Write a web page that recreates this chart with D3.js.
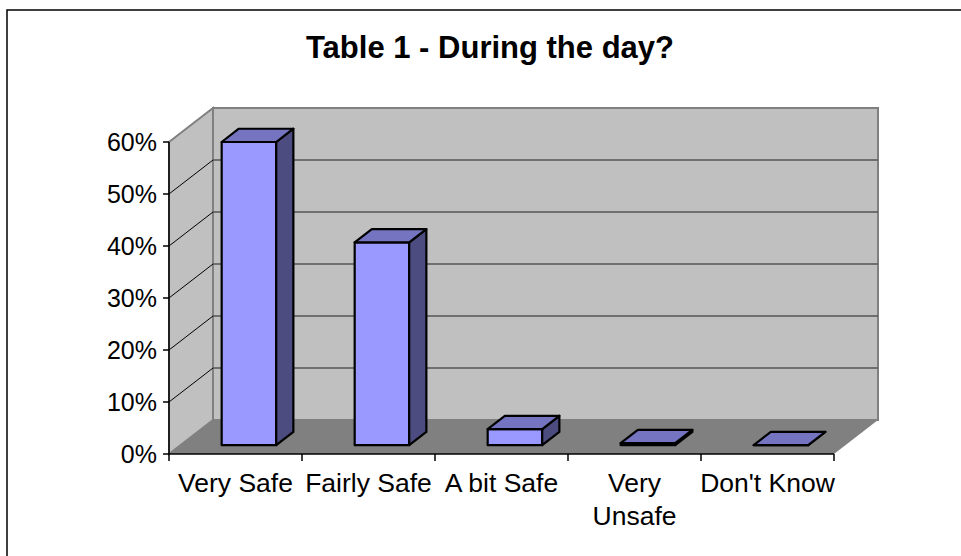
<!DOCTYPE html>
<html>
<head>
<meta charset="utf-8">
<script src="https://cdn.jsdelivr.net/npm/d3@7"></script>
<style>
  body { margin: 0; background: #fff; }
  text { font-family: "Liberation Sans", Arial, sans-serif; fill: #000; }
</style>
</head>
<body>
<div id="chart"></div>
<script>
// Data
const categories = ["Very Safe", "Fairly Safe", "A bit Safe", "Very Unsafe", "Don't Know"];
const categoryLines = [["Very Safe"], ["Fairly Safe"], ["A bit Safe"], ["Very", "Unsafe"], ["Don't Know"]];
const values = [0.583, 0.39, 0.031, 0.004, 0];
const yTicks = [0, 0.1, 0.2, 0.3, 0.4, 0.5, 0.6];

const width = 961, height = 556;

// oblique depth offset of the 3d box
const DX = 44, DY = -34;
const zFront = 0.26, zBack = 0.65;

const svg = d3.select("#chart")
  .append("svg")
    .attr("width", width)
    .attr("height", height);

// outer border (right and bottom run off the picture)
svg.append("rect")
  .attr("x", 7).attr("y", 10)
  .attr("width", 1000).attr("height", 600)
  .attr("fill", "none")
  .attr("stroke", "#000")
  .attr("stroke-width", 1.5);

// title
svg.append("text")
  .attr("x", 490).attr("y", 58)
  .attr("text-anchor", "middle")
  .attr("font-size", 31)
  .attr("font-weight", "bold")
  .text("Table 1 - During the day?");

// scales
const x = d3.scaleBand()
  .domain(categories)
  .range([169, 834]);

const y = d3.scaleLinear()
  .domain([0, 0.6])
  .range([454, 142]);

const x0 = x.range()[0], x1 = x.range()[1];
const yTop = y(0.6), yBot = y(0);

const pt = (px, py, z) => [px + z * DX, py + z * DY];
const poly = pts => pts.map(p => p.join(",")).join(" ");

// back wall
svg.append("polygon")
  .attr("points", poly([pt(x0, yTop, 1), pt(x1, yTop, 1), pt(x1, yBot, 1), pt(x0, yBot, 1)]))
  .attr("fill", "#c0c0c0")
  .attr("stroke", "#808080")
  .attr("stroke-width", 2);

// side wall
svg.append("polygon")
  .attr("points", poly([[x0, yTop], pt(x0, yTop, 1), pt(x0, yBot, 1), [x0, yBot]]))
  .attr("fill", "#c0c0c0")
  .attr("stroke", "#808080")
  .attr("stroke-width", 2);

// floor
svg.append("polygon")
  .attr("points", poly([[x0, yBot], pt(x0, yBot, 1), pt(x1, yBot, 1), [x1, yBot]]))
  .attr("fill", "#808080");

// gridlines on back wall and side wall
const grid = yTicks.filter(d => d > 0 && d < 0.6);
svg.selectAll(".grid-back")
  .data(grid)
  .enter().append("line")
    .attr("class", "grid-back")
    .attr("x1", x0 + DX).attr("x2", x1 + DX)
    .attr("y1", d => y(d) + DY).attr("y2", d => y(d) + DY)
    .attr("stroke", "#555")
    .attr("stroke-width", 1.5);

svg.selectAll(".grid-side")
  .data(grid)
  .enter().append("line")
    .attr("class", "grid-side")
    .attr("x1", x0).attr("y1", d => y(d))
    .attr("x2", x0 + DX).attr("y2", d => y(d) + DY)
    .attr("stroke", "#000")
    .attr("stroke-width", 1);

// axes lines
svg.append("line")
  .attr("x1", x0).attr("x2", x0)
  .attr("y1", yTop).attr("y2", yBot)
  .attr("stroke", "#000").attr("stroke-width", 1.5);

svg.append("line")
  .attr("x1", x0).attr("x2", x1)
  .attr("y1", yBot).attr("y2", yBot)
  .attr("stroke", "#000").attr("stroke-width", 1.5);

// y ticks and labels
svg.selectAll(".ytick")
  .data(yTicks)
  .enter().append("line")
    .attr("class", "ytick")
    .attr("x1", x0 - 6).attr("x2", x0)
    .attr("y1", d => y(d)).attr("y2", d => y(d))
    .attr("stroke", "#000").attr("stroke-width", 1.5);

svg.selectAll(".ylabel")
  .data(yTicks)
  .enter().append("text")
    .attr("class", "ylabel")
    .attr("x", 157)
    .attr("y", d => y(d))
    .attr("dy", "0.36em")
    .attr("text-anchor", "end")
    .attr("font-size", 25)
    .text(d3.format(".0%"));

// x ticks at category boundaries
const xBounds = categories.map(c => x(c)).concat([x1]);
svg.selectAll(".xtick")
  .data(xBounds)
  .enter().append("line")
    .attr("class", "xtick")
    .attr("x1", d => d).attr("x2", d => d)
    .attr("y1", yBot).attr("y2", yBot + 7)
    .attr("stroke", "#000").attr("stroke-width", 1.5);

// x labels
const xl = svg.selectAll(".xlabel")
  .data(categories)
  .enter().append("text")
    .attr("class", "xlabel")
    .attr("text-anchor", "middle")
    .attr("font-size", 26.5)
    .attr("x", d => x(d) + x.bandwidth() / 2)
    .attr("y", 492);

xl.selectAll("tspan")
  .data((d, i) => categoryLines[i])
  .enter().append("tspan")
    .attr("x", function() { return this.parentNode.getAttribute("x"); })
    .attr("dy", (d, i) => i === 0 ? 0 : 33)
    .text(d => d);

// bars
const barW = x.bandwidth() * 0.41;
const bars = svg.selectAll(".bar")
  .data(categories.map((c, i) => ({ c, v: values[i] })))
  .enter().append("g")
    .attr("class", "bar");

const bx = d => x(d.c) + x.bandwidth() / 2 - barW / 2 + 2;

bars.append("polygon")
  .attr("points", d => {
    const l = bx(d), r = l + barW, t = y(d.v), b = y(0);
    return poly([pt(l, t, zFront), pt(r, t, zFront), pt(r, b, zFront), pt(l, b, zFront)]);
  })
  .attr("fill", "#9999ff");

bars.append("polygon")
  .attr("points", d => {
    const l = bx(d), r = l + barW, t = y(d.v), b = y(0);
    return poly([pt(r, t, zFront), pt(r, t, zBack), pt(r, b, zBack), pt(r, b, zFront)]);
  })
  .attr("fill", "#4c4c80");

bars.append("polygon")
  .attr("points", d => {
    const l = bx(d), r = l + barW, t = y(d.v);
    return poly([pt(l, t, zFront), pt(l, t, zBack), pt(r, t, zBack), pt(r, t, zFront)]);
  })
  .attr("fill", "#7474c0");

bars.selectAll("polygon")
  .attr("stroke", "#000")
  .attr("stroke-width", 2.2)
  .attr("stroke-linejoin", "round");
</script>
</body>
</html>
